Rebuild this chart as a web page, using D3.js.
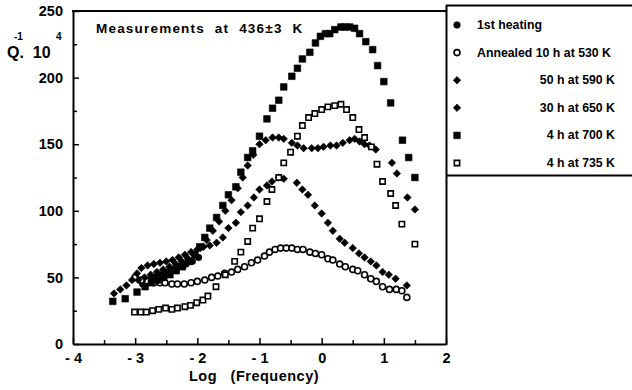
<!DOCTYPE html>
<html lang="en">
<head>
<meta charset="utf-8">
<title>Internal friction vs log frequency</title>
<script src="https://d3js.org/d3.v7.min.js"></script>
<style>
  body { margin: 0; background: #fff; }
  svg text {
    font-family: "Liberation Sans", Arial, sans-serif;
    font-weight: bold;
    fill: #000;
    white-space: pre;
  }
  .frame { stroke: #000; stroke-width: 2; fill: none; }
</style>
</head>
<body>
<svg id="chart" width="632" height="390"></svg>
<script>
// ---- data: [log(frequency), Q^-1 x 10^4] ----
const heating1st = [
  [-2.88, 45], [-2.78, 48], [-2.68, 50], [-2.58, 52], [-2.48, 54], [-2.38, 56],
  [-2.28, 58], [-2.18, 60], [-2.08, 62], [-1.98, 65]
];
const annealed530 = [
  [-3.0, 50], [-2.9, 48], [-2.8, 47], [-2.7, 46], [-2.6, 46], [-2.52, 46], [-2.41, 45],
  [-2.32, 45], [-2.21, 45], [-2.1, 46], [-2.0, 47], [-1.88, 48], [-1.77, 50], [-1.67, 51],
  [-1.56, 53], [-1.45, 54], [-1.35, 56], [-1.24, 58], [-1.13, 61], [-1.03, 63], [-0.92, 66],
  [-0.84, 69], [-0.75, 71], [-0.66, 72], [-0.57, 72], [-0.48, 72], [-0.39, 71], [-0.30, 71],
  [-0.19, 69], [-0.10, 68], [0.0, 67], [0.10, 64], [0.18, 63], [0.29, 60], [0.38, 58],
  [0.50, 56], [0.58, 55], [0.69, 52], [0.79, 49], [0.88, 47], [0.98, 43], [1.09, 41],
  [1.20, 41], [1.29, 40], [1.37, 35]
];
const h50at590 = [
  [-3.34, 38], [-3.24, 41], [-3.14, 44], [-3.05, 48], [-2.97, 53], [-2.9, 57], [-2.8, 59],
  [-2.7, 60], [-2.6, 61], [-2.5, 62], [-2.4, 63], [-2.3, 65], [-2.2, 67], [-2.1, 69],
  [-2.0, 71], [-1.9, 73], [-1.80, 74], [-1.69, 76], [-1.59, 80], [-1.50, 87], [-1.38, 91],
  [-1.30, 99], [-1.19, 104], [-1.09, 110], [-1.0, 116], [-0.88, 119], [-0.80, 122],
  [-0.69, 125], [-0.61, 124], [-0.40, 121], [-0.31, 116], [-0.22, 112], [-0.11, 104],
  [0.0, 98], [0.10, 91], [0.18, 85], [0.29, 79], [0.37, 76], [0.50, 72], [0.60, 68],
  [0.69, 65], [0.79, 62], [0.88, 59], [0.98, 54], [1.08, 52], [1.19, 49], [1.37, 44]
];
const h30at650 = [
  [-2.95, 48], [-2.85, 50], [-2.75, 52], [-2.65, 54], [-2.55, 56], [-2.45, 58], [-2.35, 60],
  [-2.25, 62], [-2.15, 64], [-2.05, 67], [-1.95, 72], [-1.85, 78], [-1.75, 85], [-1.65, 92],
  [-1.55, 100], [-1.45, 108], [-1.35, 117], [-1.27, 125], [-1.19, 134], [-1.10, 142],
  [-1.0, 150], [-0.9, 153], [-0.79, 155], [-0.69, 155], [-0.61, 154], [-0.48, 151],
  [-0.39, 149], [-0.29, 147], [-0.16, 147], [-0.06, 147], [0.03, 148], [0.14, 149],
  [0.24, 149], [0.34, 151], [0.45, 153], [0.53, 154], [0.61, 152], [0.69, 150], [0.77, 149],
  [0.87, 146], [1.13, 136], [1.21, 128], [1.38, 110], [1.50, 101]
];
const h4at700 = [
  [-3.36, 32], [-3.16, 34], [-2.97, 39], [-2.84, 43], [-2.74, 46], [-2.64, 48], [-2.54, 50],
  [-2.44, 52], [-2.34, 55], [-2.24, 58], [-2.14, 62], [-2.04, 67], [-1.96, 73], [-1.88, 80],
  [-1.80, 87], [-1.69, 95], [-1.59, 104], [-1.50, 112], [-1.38, 118], [-1.30, 129],
  [-1.19, 140], [-1.11, 145], [-1.0, 156], [-0.88, 169], [-0.79, 177], [-0.69, 183],
  [-0.61, 193], [-0.48, 201], [-0.39, 207], [-0.31, 214], [-0.19, 219], [-0.10, 226],
  [-0.02, 231], [0.06, 233], [0.13, 233], [0.21, 236], [0.31, 238], [0.37, 238], [0.45, 238],
  [0.53, 237], [0.61, 233], [0.71, 227], [0.82, 221], [0.90, 209], [1.0, 197], [1.11, 181],
  [1.30, 153], [1.40, 140], [1.50, 125]
];
const h4at735 = [
  [-3.01, 24], [-2.91, 24], [-2.82, 24], [-2.72, 25], [-2.62, 26], [-2.51, 27], [-2.41, 26],
  [-2.32, 27], [-2.20, 28], [-2.11, 29], [-2.01, 31], [-1.91, 33], [-1.83, 36], [-1.70, 43],
  [-1.55, 52], [-1.40, 62], [-1.30, 69], [-1.19, 77], [-1.11, 87], [-1.0, 94], [-0.88, 107],
  [-0.80, 116], [-0.69, 125], [-0.61, 136], [-0.50, 144], [-0.39, 156], [-0.31, 164],
  [-0.21, 170], [-0.11, 173], [0.0, 176], [0.10, 178], [0.21, 179], [0.31, 180], [0.40, 176],
  [0.50, 170], [0.60, 161], [0.69, 155], [0.80, 148], [0.89, 135], [0.98, 122], [1.11, 113],
  [1.19, 104], [1.29, 90], [1.50, 75]
];

const seriesNames = ['1st heating', 'Annealed 10 h at 530 K', '50 h at 590 K',
                     '30 h at 650 K', '4 h at 700 K', '4 h at 735 K'];
const xTicks = [-4, -3, -2, -1, 0, 1, 2];
const yTicks = [0, 50, 100, 150, 200, 250];

// ---- setup ----
const svg = d3.select('#chart');

const x = d3.scaleLinear().domain([-4, 2]).range([73, 446]);
const y = d3.scaleLinear().domain([0, 250]).range([344, 11]);

// marker styles per series
const styles = [
  { data: heating1st,  shape: d3.symbolCircle, size: 34, fill: '#000', rot: 0 },
  { data: annealed530, shape: d3.symbolCircle, size: 28, fill: '#fff', rot: 0 },
  { data: h50at590,    shape: d3.symbolSquare, size: 28, fill: '#000', rot: 45 },
  { data: h30at650,    shape: d3.symbolSquare, size: 28, fill: '#000', rot: 45 },
  { data: h4at700,     shape: d3.symbolSquare, size: 44, fill: '#000', rot: 0 },
  { data: h4at735,     shape: d3.symbolSquare, size: 28, fill: '#fff', rot: 0 }
];

// axes
svg.append('g')
  .attr('transform', 'translate(73,0)')
  .call(d3.axisLeft(y).tickValues(yTicks).tickSize(-6).tickSizeOuter(0).tickPadding(10));
svg.append('g')
  .attr('transform', 'translate(73,0)')
  .call(d3.axisLeft(y).tickValues(d3.range(25, 250, 50)).tickSize(-4).tickFormat(''))
  .select('.domain').remove();

svg.append('g')
  .attr('transform', 'translate(0,344)')
  .call(d3.axisBottom(x).tickValues(xTicks).tickSize(-6).tickSizeOuter(0).tickPadding(9)
    .tickFormat(d => d < 0 ? '- ' + (-d) : String(d)));
svg.append('g')
  .attr('transform', 'translate(0,344)')
  .call(d3.axisBottom(x).tickValues(d3.range(-3.5, 2, 1)).tickSize(-4).tickFormat(''))
  .select('.domain').remove();

svg.selectAll('.domain').attr('stroke-width', 2);
svg.selectAll('.tick line').attr('stroke-width', 1.5);
svg.selectAll('.tick text')
  .style('font-size', '14.5px')
  .style('font-family', '"Liberation Sans", Arial, sans-serif')
  .style('font-weight', 'bold');

// frame top + right, legend box
svg.append('line').attr('class', 'frame')
  .attr('x1', 72).attr('x2', 447).attr('y1', y(250)).attr('y2', y(250));
svg.append('line').attr('class', 'frame')
  .attr('x1', 446.5).attr('x2', 446.5).attr('y1', 5).attr('y2', 345);
svg.append('path').attr('class', 'frame')
  .attr('d', 'M446,5.5H640M446,175.5H640');

// data points
styles.forEach(s => {
  const sym = d3.symbol().type(s.shape).size(s.size);
  svg.append('g')
    .selectAll('path')
    .data(s.data)
    .join('path')
    .attr('d', sym)
    .attr('transform', d => `translate(${x(d[0])},${y(d[1])}) rotate(${s.rot})`)
    .attr('fill', s.fill)
    .attr('stroke', '#000')
    .attr('stroke-width', s.fill === '#fff' ? 1.6 : 0.6);
});

// legend
const legend = svg.append('g');
const rowY = d3.scalePoint().domain(seriesNames).range([25, 163]);
seriesNames.forEach((name, i) => {
  const s = styles[i];
  legend.append('path')
    .attr('d', d3.symbol().type(s.shape).size(s.size)())
    .attr('transform', `translate(457,${rowY(name)}) rotate(${s.rot})`)
    .attr('fill', s.fill)
    .attr('stroke', '#000')
    .attr('stroke-width', s.fill === '#fff' ? 1.6 : 0.6);
  const left = i < 2;
  legend.append('text')
    .attr('x', left ? 477 : 615)
    .attr('y', rowY(name) + 4)
    .attr('text-anchor', left ? 'start' : 'end')
    .style('font-size', '12.3px')
    .text(name);
});

// title inside the plot
svg.append('text')
  .attr('x', 96).attr('y', 33)
  .style('font-size', '13.5px')
  .style('letter-spacing', '1.2px')
  .text('Measurements  at  436\u00B13  K');

// y label Q^-1 . 10^4
const ylab = svg.append('g');
ylab.append('text').attr('x', 7).attr('y', 58).style('font-size', '16px').text('Q.  10');
ylab.append('text').attr('x', 14).attr('y', 40).style('font-size', '10px').text('-1');
ylab.append('text').attr('x', 56).attr('y', 40).style('font-size', '10px').text('4');

// x label
svg.append('text')
  .attr('x', 254).attr('y', 381)
  .attr('text-anchor', 'middle')
  .style('font-size', '14.5px')
  .style('letter-spacing', '0.5px')
  .text('Log   (Frequency)');
</script>
</body>
</html>
